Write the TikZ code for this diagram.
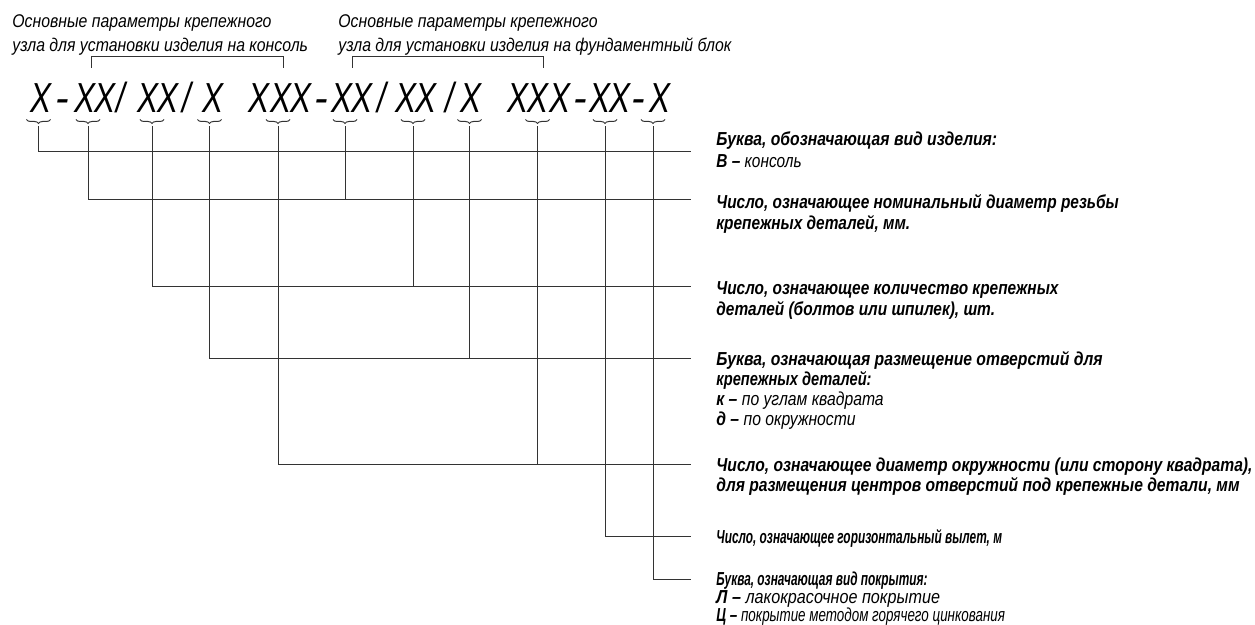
\documentclass[tikz,border=0pt]{standalone}
\usepackage{graphicx}
\usepackage{fontspec}
\setmainfont{Liberation Sans}
\newfontfamily\hdrfont[FakeStretch=0.86]{Liberation Sans}
\newfontfamily\descfont[FakeStretch=0.82]{Liberation Sans}
\newfontfamily\codefont[FakeStretch=0.75]{Liberation Sans}
\usetikzlibrary{decorations.pathreplacing}
\tikzset{
  ln/.style={line width=0.5pt, draw=black!80},
  br/.style={decorate, decoration={brace, mirror, amplitude=2pt}, line width=0.5pt, draw=black!80},
  desc/.style={anchor=base west, inner sep=0pt, font=\descfont\bfseries\itshape\fontsize{9.4pt}{10pt}\selectfont},
  hdr/.style={anchor=base west, inner sep=0pt, font=\hdrfont\itshape\fontsize{9.2pt}{12pt}\selectfont},
  cd/.style={anchor=base, inner sep=0pt, font=\codefont\itshape\fontsize{21pt}{21pt}\selectfont},
}
\newcommand{\sub}[2]{{\bfseries #1 –} {\mdseries #2}}
\newcommand{\ml}[2]{\vtop{\baselineskip=#1\lineskip=0pt\lineskiplimit=-100pt #2}}
\newcommand{\sx}[2]{\hbox{\scalebox{#1}[1]{#2}}}
\newcommand{\cds}{\scalebox{1.3}[1]{-}}
\begin{document}
\begin{tikzpicture}[x=0.5pt, y=-0.5pt]
\useasboundingbox (0,0) rectangle (1255,625);
\fill[white] (0,0) rectangle (1255,625);
% headers
\node[hdr] (h1) at (12,28) {\ml{12pt}{\hbox{Основные параметры крепежного}\hbox{узла для установки изделия на консоль}}};
\node[hdr] (h2) at (338,28) {\ml{12pt}{\hbox{Основные параметры крепежного}\hbox{узла для установки изделия на фундаментный блок}}};
\draw[ln] (91,68) -- (91,57) -- (283,57) -- (283,68);
\draw[ln] (352,68) -- (352,57) -- (543,57) -- (543,68);
% code
\foreach \i/\x/\c in {0/41.5/X,1/62/\cds,2/85/X,3/105/X,4/121/{/},5/148/X,6/168/X,7/187/{/},8/213/X,
  9/259/X,10/281/X,11/301/X,12/321/\cds,13/342/X,14/362/X,15/382/{/},16/406/X,17/426/X,18/450/{/},19/471/X,
  20/518/X,21/538/X,22/560/X,23/580/\cds,24/600/X,25/620/X,26/638/\cds,27/660/X}
  \node[cd] (c\i) at (\x,113) {\c};
% braces and tips
\foreach \i/\x in {1/38.5,2/88,3/152,4/209.5,5/278,6/345,7/413,8/469.5,9/537.5,10/605,11/653}{
  \draw[br] (\x-12,119.5) -- (\x+12,119.5);
  \coordinate (t\i) at (\x,126.5);
}
% line ends
\foreach \j/\y in {1/152,2/200,3/287,4/359,5/465,6/537,7/580}
  \coordinate (e\j) at (691,\y);
% connectors
\draw[ln] (t1) |- (e1);
\draw[ln] (t2) |- (e2); \draw[ln] (t6) -- (t6 |- e2);
\draw[ln] (t3) |- (e3); \draw[ln] (t7) -- (t7 |- e3);
\draw[ln] (t4) |- (e4); \draw[ln] (t8) -- (t8 |- e4);
\draw[ln] (t5) |- (e5); \draw[ln] (t9) -- (t9 |- e5);
\draw[ln] (t10) |- (e6);
\draw[ln] (t11) |- (e7);
% descriptions
\node[desc] (d1) at (716,146) {\ml{11pt}{\sx{1.02}{Буква, обозначающая вид изделия:}\hbox{\sub{В}{консоль}}}};
\node[desc] (d2) at (716,209) {\ml{10.3pt}{\hbox{Число, означающее номинальный диаметр резьбы}\hbox{крепежных деталей, мм.}}};
\node[desc] (d3) at (716,295) {\ml{10.2pt}{\hbox{Число, означающее количество крепежных}\hbox{деталей (болтов или шпилек), шт.}}};
\node[desc] (d4) at (716,366) {\ml{9.9pt}{\sx{1.02}{Буква, означающая размещение отверстий для}\sx{0.95}{крепежных деталей:}\sx{1.02}{\sub{к}{по углам квадрата}}\sx{1.02}{\sub{д}{по окружности}}}};
\node[desc] (d5) at (716,472) {\ml{9.8pt}{\sx{1.015}{Число, означающее диаметр окружности (или сторону квадрата),}\sx{1.015}{для размещения центров отверстий под крепежные детали, мм}}};
\node[desc] (d6) at (716,544) {\sx{0.77}{Число, означающее горизонтальный вылет, м}};
\node[desc] (d7) at (716,586) {\ml{8.8pt}{\sx{0.77}{Буква, означающая вид покрытия:}\sx{1.05}{\sub{Л}{лакокрасочное покрытие}}\sx{0.87}{\sub{Ц}{покрытие методом горячего цинкования}}}};
\end{tikzpicture}
\end{document}
